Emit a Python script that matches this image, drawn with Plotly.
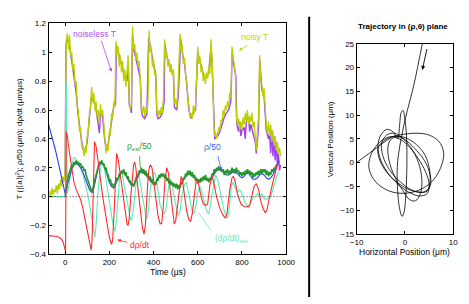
import plotly.graph_objects as go

# ---------------- left panel data ----------------
t_noisy = list(range(-70, 980, 5))
T_noisy = [
    0.04, 0.00, 0.06, 0.01, 0.05, 0.03, 0.08, 0.02, 0.09, 0.05,
    0.12, 0.07, 0.14, 0.10, 0.17, 1.08, 1.13, 1.02, 1.12, 0.98,
    1.00, 0.88, 0.92, 0.78, 0.80, 0.62, 0.60, 0.45, 0.48, 0.34,
    0.36, 0.28, 0.34, 0.30, 0.42, 0.45, 0.58, 0.62, 0.76, 0.66,
    0.72, 0.60, 0.66, 0.55, 0.60, 0.50, 0.64, 0.56, 0.60, 0.50,
    0.40, 0.30, 0.36, 0.32, 0.45, 0.42, 0.58, 0.54, 0.66, 0.62,
    1.08, 0.98, 1.04, 0.90, 0.98, 0.86, 0.94, 0.80, 0.88, 0.76,
    0.86, 0.98, 0.66, 0.60, 0.64, 1.18, 1.02, 1.06, 0.94, 1.00,
    0.90, 0.94, 0.82, 0.62, 0.58, 0.63, 0.55, 0.62, 0.58, 0.66,
    1.15, 1.00, 1.04, 0.90, 0.95, 0.84, 0.86, 0.60, 0.55, 0.60,
    0.56, 0.62, 0.58, 0.69, 1.09, 0.96, 1.00, 0.90, 0.95, 0.86,
    0.92, 0.84, 0.88, 0.64, 0.68, 0.62, 0.72, 0.95, 1.13, 1.00,
    1.05, 0.92, 0.96, 0.84, 0.80, 0.70, 0.62, 0.55, 0.58, 0.54,
    0.63, 0.58, 0.64, 0.85, 1.04, 0.92, 0.97, 0.86, 0.90, 0.80,
    0.85, 0.78, 0.86, 0.82, 0.90, 0.85, 1.09, 0.95, 0.72, 0.42,
    0.45, 0.40, 0.44, 0.48, 0.46, 0.53, 0.52, 0.60, 0.56, 0.63,
    0.60, 0.66, 0.62, 0.72, 0.68, 1.04, 0.95, 0.92, 0.86, 0.55,
    0.50, 0.54, 0.46, 0.52, 0.47, 0.55, 0.50, 0.58, 0.52, 0.60,
    0.50, 0.56, 0.52, 0.58, 0.48, 0.52, 0.42, 0.32, 0.45, 0.55,
    0.98, 0.80, 0.78, 0.70, 0.75, 0.60, 0.50, 0.44, 0.52, 0.42,
    0.50, 0.38, 0.46, 0.35, 0.42, 0.32, 0.38, 0.30, 0.34, 0.28,
]

T_clean_pts = [
    (-70, 0.02), (-60, 0.03), (-50, 0.04), (-40, 0.05), (-30, 0.07), (-20, 0.09), (-10, 0.11), (0, 0.14),
    (4, 1.05), (10, 1.10), (20, 1.04), (30, 0.94), (40, 0.84), (50, 0.72), (60, 0.55), (70, 0.42),
    (80, 0.33), (90, 0.31), (100, 0.38), (110, 0.55), (120, 0.70), (130, 0.66), (140, 0.60), (150, 0.50),
    (155, 0.44), (160, 0.58), (170, 0.55), (180, 0.38), (190, 0.32), (200, 0.42), (210, 0.54), (220, 0.62),
    (228, 0.64), (232, 1.05), (240, 1.00), (250, 0.94), (260, 0.90), (270, 0.84), (280, 0.80), (286, 0.92),
    (290, 0.64), (300, 0.58), (305, 1.12), (310, 1.02), (320, 0.96), (330, 0.90), (340, 0.82), (345, 0.60),
    (350, 0.56), (360, 0.54), (370, 0.57), (378, 1.10), (390, 1.00), (400, 0.92), (410, 0.84), (415, 0.57),
    (420, 0.54), (430, 0.55), (440, 0.58), (448, 0.66), (451, 1.06), (460, 0.97), (470, 0.92), (480, 0.88),
    (490, 0.84), (495, 0.62), (505, 0.60), (512, 0.70), (518, 0.90), (522, 1.10), (530, 1.00), (540, 0.92),
    (550, 0.78), (560, 0.60), (570, 0.54), (580, 0.58), (590, 0.60), (596, 0.82), (600, 1.00), (610, 0.94),
    (620, 0.87), (630, 0.82), (640, 0.83), (650, 0.86), (660, 1.04), (665, 0.92), (670, 0.70), (677, 0.40),
    (690, 0.42), (700, 0.45), (710, 0.50), (720, 0.55), (730, 0.58), (740, 0.60), (750, 0.66), (756, 1.00),
    (765, 0.90), (772, 0.84), (777, 0.50), (785, 0.45), (790, 0.52), (795, 0.42), (800, 0.46), (810, 0.48),
    (815, 0.40), (820, 0.52), (830, 0.55), (835, 0.45), (840, 0.50), (850, 0.44), (860, 0.38), (865, 0.30),
    (875, 0.48), (881, 0.95), (890, 0.74), (900, 0.70), (910, 0.46), (920, 0.40), (925, 0.44), (930, 0.30),
    (935, 0.46), (940, 0.28), (945, 0.42), (950, 0.25), (955, 0.38), (960, 0.22), (965, 0.30), (970, 0.18),
    (975, 0.22),
]

rho_pts = [
    (-75, 0.50), (-60, 0.42), (-45, 0.33), (-30, 0.23), (-15, 0.12), (-5, 0.05), (0, 0.02),
    (10, 0.08), (20, 0.14), (30, 0.19), (40, 0.22), (50, 0.23), (60, 0.22), (70, 0.20), (80, 0.17),
    (90, 0.13), (100, 0.09), (110, 0.05), (120, 0.03), (125, 0.03), (130, 0.06), (140, 0.14), (150, 0.20),
    (160, 0.23), (170, 0.23), (180, 0.20), (190, 0.15), (200, 0.10), (210, 0.07), (220, 0.06), (230, 0.09),
    (240, 0.13), (250, 0.16), (260, 0.17), (270, 0.16), (280, 0.13), (290, 0.10), (300, 0.08), (310, 0.08),
    (320, 0.11), (330, 0.15), (340, 0.17), (350, 0.17), (360, 0.16), (370, 0.14), (380, 0.12), (390, 0.10),
    (400, 0.09), (410, 0.10), (420, 0.13), (430, 0.15), (440, 0.15), (450, 0.14), (460, 0.12), (470, 0.10),
    (480, 0.09), (490, 0.08), (500, 0.08), (510, 0.07), (520, 0.08), (530, 0.10), (540, 0.13), (550, 0.15),
    (560, 0.16), (570, 0.16), (580, 0.15), (590, 0.13), (600, 0.11), (610, 0.10), (620, 0.11), (630, 0.12),
    (640, 0.12), (650, 0.11), (660, 0.12), (670, 0.15), (680, 0.17), (690, 0.19), (700, 0.19), (710, 0.18),
    (720, 0.16), (730, 0.15), (740, 0.15), (750, 0.16), (760, 0.17), (770, 0.17), (780, 0.16), (790, 0.14),
    (800, 0.13), (810, 0.14), (820, 0.16), (830, 0.16), (840, 0.14), (850, 0.12), (860, 0.12), (870, 0.13),
    (880, 0.15), (890, 0.16), (900, 0.15), (910, 0.13), (920, 0.12), (930, 0.13), (940, 0.15), (950, 0.18),
    (960, 0.22), (968, 0.25),
]

t_rho_est = list(range(0, 965, 5))
rho_est = [
    0.00, 0.06, 0.10, 0.15, 0.17, 0.20, 0.22, 0.21, 0.24, 0.22,
    0.25, 0.23, 0.24, 0.22, 0.23, 0.20, 0.21, 0.18, 0.19, 0.15,
    0.13, 0.10, 0.08, 0.06, 0.03, 0.05, 0.08, 0.12, 0.15, 0.19,
    0.21, 0.24, 0.23, 0.25, 0.22, 0.23, 0.19, 0.20, 0.16, 0.15,
    0.11, 0.12, 0.08, 0.09, 0.06, 0.08, 0.10, 0.13, 0.12, 0.16,
    0.15, 0.18, 0.16, 0.19, 0.15, 0.17, 0.13, 0.14, 0.10, 0.11,
    0.08, 0.09, 0.07, 0.10, 0.12, 0.15, 0.14, 0.18, 0.17, 0.20,
    0.16, 0.19, 0.15, 0.18, 0.14, 0.16, 0.12, 0.14, 0.10, 0.12,
    0.08, 0.10, 0.08, 0.12, 0.11, 0.15, 0.13, 0.16, 0.14, 0.16,
    0.13, 0.15, 0.11, 0.13, 0.09, 0.11, 0.08, 0.10, 0.07, 0.09,
    0.06, 0.09, 0.05, 0.08, 0.06, 0.10, 0.09, 0.13, 0.12, 0.16,
    0.14, 0.18, 0.15, 0.18, 0.14, 0.17, 0.13, 0.15, 0.11, 0.13,
    0.09, 0.12, 0.10, 0.13, 0.11, 0.14, 0.12, 0.15, 0.11, 0.13,
    0.10, 0.13, 0.12, 0.16, 0.15, 0.19, 0.17, 0.20, 0.18, 0.21,
    0.18, 0.20, 0.17, 0.19, 0.15, 0.18, 0.16, 0.19, 0.15, 0.18,
    0.16, 0.20, 0.17, 0.19, 0.16, 0.20, 0.17, 0.18, 0.15, 0.17,
    0.14, 0.17, 0.15, 0.18, 0.16, 0.19, 0.16, 0.18, 0.15, 0.17,
    0.13, 0.16, 0.14, 0.17, 0.15, 0.18, 0.15, 0.19, 0.16, 0.19,
    0.17, 0.19, 0.15, 0.18, 0.14, 0.17, 0.15, 0.19, 0.17, 0.20,
    0.19, 0.22, 0.21,
]

drho_pts = [
    (-75, -0.27), (-60, -0.27), (-45, -0.275), (-30, -0.28), (-20, -0.29), (-10, -0.31), (-5, -0.34),
    (0, -0.38), (2, -0.38), (5, 0.45), (10, 0.42), (20, 0.30), (30, 0.18), (40, 0.10), (50, 0.05),
    (60, 0.02), (70, -0.02), (80, -0.08), (90, -0.15), (100, -0.22), (110, -0.30), (118, -0.37),
    (122, -0.30), (128, 0.20), (133, 0.38), (140, 0.35), (150, 0.25), (160, 0.12), (170, 0.00),
    (180, -0.10), (190, -0.20), (200, -0.28), (210, -0.33), (215, -0.30), (222, -0.10), (228, 0.20),
    (233, 0.30), (240, 0.26), (250, 0.15), (260, 0.02), (270, -0.10), (280, -0.19), (285, -0.20),
    (290, -0.15), (300, 0.05), (310, 0.22), (315, 0.24), (320, 0.20), (330, 0.05), (340, -0.10),
    (350, -0.22), (357, -0.26), (363, -0.20), (370, 0.00), (378, 0.18), (385, 0.22), (393, 0.20),
    (400, 0.12), (410, -0.02), (420, -0.13), (430, -0.19), (437, -0.185), (445, -0.05), (452, 0.12),
    (460, 0.20), (468, 0.16), (475, 0.05), (485, -0.10), (494, -0.19), (500, -0.17), (510, -0.05),
    (518, 0.08), (525, 0.14), (532, 0.10), (540, 0.00), (550, -0.10), (560, -0.16), (568, -0.17),
    (575, -0.12), (585, 0.00), (592, 0.10), (598, 0.12), (605, 0.08), (615, 0.00), (625, -0.05),
    (635, -0.06), (645, -0.05), (655, 0.08), (665, 0.14), (672, 0.10), (685, 0.00), (700, -0.08),
    (715, -0.13), (725, -0.15), (732, -0.12), (745, 0.05), (755, 0.13), (762, 0.14), (770, 0.10),
    (780, 0.02), (795, -0.05), (810, -0.07), (825, -0.07), (835, -0.06), (845, 0.00), (855, 0.07),
    (865, 0.09), (875, 0.05), (885, -0.03), (895, -0.08), (905, -0.11), (912, -0.10), (920, -0.04),
    (930, 0.04), (940, 0.10), (950, 0.16), (960, 0.22),
]

drho_est_pts = [
    (-75, 0.0), (3, 0.0), (5, 0.80), (7, 0.05), (10, 0.02), (20, 0.10), (30, 0.22), (40, 0.27),
    (50, 0.26), (60, 0.22), (70, 0.20), (80, 0.16), (90, 0.10), (100, 0.03), (110, -0.05), (120, -0.15),
    (130, -0.25), (135, -0.28), (140, -0.20), (150, 0.05), (160, 0.20), (167, 0.25), (175, 0.22),
    (185, 0.12), (195, 0.00), (205, -0.10), (215, -0.18), (225, -0.24), (230, -0.20), (240, 0.00),
    (248, 0.15), (255, 0.18), (265, 0.10), (275, 0.00), (285, -0.08), (295, -0.15), (300, -0.17),
    (308, -0.10), (318, 0.05), (325, 0.15), (332, 0.17), (340, 0.10), (350, 0.00), (360, -0.10),
    (368, -0.16), (375, -0.12), (385, 0.05), (395, 0.14), (405, 0.17), (412, 0.13), (420, 0.03),
    (430, -0.06), (440, -0.10), (450, -0.12), (458, -0.07), (468, 0.07), (478, 0.12), (485, 0.08),
    (495, -0.02), (505, -0.10), (512, -0.13), (520, -0.10), (530, 0.02), (540, 0.08), (548, 0.10),
    (555, 0.05), (565, -0.04), (575, -0.10), (583, -0.12), (592, -0.06), (600, 0.03), (610, 0.07),
    (618, 0.04), (630, -0.05), (640, -0.10), (650, -0.12), (660, -0.03), (670, 0.08), (680, 0.15),
    (690, 0.12), (700, 0.05), (710, -0.04), (720, -0.10), (735, -0.15), (745, -0.05), (752, 0.07),
    (760, 0.10), (770, 0.06), (780, 0.03), (790, 0.05), (800, 0.02), (812, -0.03), (822, -0.06),
    (830, -0.08), (840, -0.04), (850, -0.01), (860, 0.00), (870, 0.02), (880, 0.00), (890, 0.02),
    (900, -0.01), (910, -0.02), (920, -0.01), (930, 0.00), (940, 0.05), (950, 0.10), (960, 0.15),
    (968, 0.17),
]

x_ticks = [0, 200, 400, 600, 800, 1000]
y_ticks = [-0.4, -0.2, 0, 0.2, 0.4, 0.6, 0.8, 1, 1.2]

# ---------------- right panel data ----------------
traj_h = [
    3.8, 3.0, 2.2, 1.4, 0.5, -0.2, -0.8, -1.3, -1.6,
    -1.6, -1.4, -1.0, -0.6, -0.2, 0.1, 0.3, 0.4, 0.4, 0.3, 0.0, -0.4, -0.8, -1.1, -1.5,
    -2.5, -3.8, -5.0, -5.6, -5.0, -3.5, -1.5, 0.8, 3.0, 4.6, 5.0, 4.3, 2.8, 1.0, -0.8, -2.8,
    -5.0, -6.8, -7.5, -6.8, -5.0, -2.5, 0.5, 3.5, 6.0, 7.6, 8.0, 7.0, 5.0, 2.5, 0.0, -2.5,
    -4.5, -5.6, -5.2, -3.8, -1.8, 0.5, 2.8, 4.6, 5.2, 5.0, 4.2, 2.8, 1.0, -1.0, -2.8,
    -3.5, -3.3, -2.2, -0.5, 1.0, 2.2, 3.2, 3.5, 2.8, 1.2, -0.8, -2.2,
    -3.8, -4.8, -4.6, -3.2, -1.0, 1.5, 3.8, 5.2, 5.2, 4.0, 2.0, -0.2, -2.0,
    -3.6, -5.5, -7.5, -9.5, -11.0,
]
traj_v = [
    26.0, 22.0, 18.0, 14.5, 11.0, 8.0, 5.0, 2.0, -1.0,
    -4.0, -7.5, -10.2, -11.3, -10.5, -8.0, -4.5, -1.0, 2.5, 6.0, 9.0, 11.0, 10.5, 8.0, 5.0,
    6.5, 7.0, 5.8, 3.5, 0.5, -2.2, -4.5, -6.2, -7.0, -6.5, -4.5, -2.0, 0.8, 3.2, 4.8, 5.5,
    4.5, 2.2, -0.5, -3.0, -5.0, -6.2, -6.4, -5.5, -3.5, -0.5, 2.2, 4.5, 5.8, 6.2, 6.0, 5.5,
    4.5, 3.0, 0.5, -2.0, -4.0, -5.5, -6.2, -6.0, -4.0, -1.0, 1.5, 3.4, 4.8, 5.5, 5.0,
    3.5, 0.5, -2.8, -5.8, -7.8, -8.0, -6.5, -3.5, 0.0, 3.2, 5.4, 6.2,
    5.8, 4.2, 1.5, -1.5, -4.0, -5.8, -6.2, -5.0, -2.5, 0.5, 3.0, 5.0, 5.6,
    4.8, 3.4, 1.9, 0.4, -0.7,
]
h_ticks = [-10, 0, 10]
v_ticks = [-15, -10, -5, 0, 5, 10, 15, 20, 25]

# ---------------- colours ----------------
C_NOISY = "#bcd000"
C_CLEAN = "#a040f0"
C_RHO = "#2a3cf0"
C_RHOEST = "#22992a"
C_DRHO = "#ff2a2a"
C_DRHOEST = "#5cecb8"
FONT = "Liberation Sans, Arial, Helvetica, sans-serif"

fig = go.Figure()


def unzip(pts):
    return [p[0] for p in pts], [p[1] for p in pts]


tc, vc = unzip(T_clean_pts)
fig.add_trace(go.Scatter(x=tc, y=vc, mode="lines", line=dict(color=C_CLEAN, width=1.4), xaxis="x", yaxis="y"))
fig.add_trace(go.Scatter(x=t_noisy, y=T_noisy, mode="lines", line=dict(color=C_NOISY, width=1.3), xaxis="x", yaxis="y"))
te, ve = unzip(drho_est_pts)
fig.add_trace(go.Scatter(x=te, y=ve, mode="lines", line=dict(color=C_DRHOEST, width=1.1), xaxis="x", yaxis="y"))
tr, vr = unzip(rho_pts)
fig.add_trace(go.Scatter(x=tr, y=vr, mode="lines", line=dict(color=C_RHO, width=1.1), xaxis="x", yaxis="y"))
fig.add_trace(go.Scatter(x=t_rho_est, y=rho_est, mode="lines", line=dict(color=C_RHOEST, width=1.6), xaxis="x", yaxis="y"))
td, vd = unzip(drho_pts)
fig.add_trace(go.Scatter(x=td, y=vd, mode="lines", line=dict(color=C_DRHO, width=1.1), xaxis="x", yaxis="y"))

fig.add_trace(go.Scatter(x=traj_h, y=traj_v, mode="lines", line=dict(color="black", width=0.8, shape="spline", smoothing=1.0),
                         xaxis="x2", yaxis="y2"))

fig.add_hline(y=0, line=dict(color="#333333", width=1, dash="1px,2px"), xref="x", yref="y")

axis_common = dict(showline=True, linecolor="black", linewidth=1, mirror="ticks", ticks="inside", ticklen=3,
                   tickcolor="black", showgrid=False, zeroline=False,
                   tickfont=dict(family=FONT, size=8, color="black"))

fig.update_layout(
    width=469, height=304, margin=dict(l=0, r=0, t=0, b=0),
    paper_bgcolor="white", plot_bgcolor="white", showlegend=False,
    xaxis=dict(domain=[0.0917, 0.6162], range=[-75, 1000], tickvals=x_ticks, anchor="y", **axis_common),
    yaxis=dict(domain=[0.1513, 0.9342], range=[-0.4, 1.2], tickvals=y_ticks, anchor="x", **axis_common),
    xaxis2=dict(domain=[0.7719, 0.9851], range=[-10, 10], tickvals=h_ticks, anchor="y2", **axis_common),
    yaxis2=dict(domain=[0.2204, 0.8651], range=[-15, 25], tickvals=v_ticks, anchor="x2", **axis_common),
)

ann = []


def tf(c, s=8.5):
    return dict(family=FONT, size=s, color=c)


def label(x, y, text, color, xref="x", yref="y", size=8.5, angle=0):
    ann.append(dict(x=x, y=y, xref=xref, yref=yref, text=text, showarrow=False, font=tf(color, size),
                    xanchor="center", yanchor="middle", textangle=angle))


def arrow(x, y, ax, ay, color, head=2, xref="x", yref="y", w=0.8):
    ann.append(dict(x=x, y=y, ax=ax, ay=ay, xref=xref, yref=yref, axref=xref, ayref=yref, text="",
                    showarrow=True, arrowhead=head, arrowsize=0.9, arrowwidth=w, arrowcolor=color))


label(131, 1.13, "noiseless T", "#b050f0")
arrow(210, 0.865, 162, 1.09, "#b050f0")
label(856, 1.106, "noisy T", "#c4d400")
arrow(786, 1.012, 830, 1.052, "#c4d400")
label(336, 0.345, "ρ<sub>est</sub>/50", C_RHOEST)
arrow(340, 0.20, 336, 0.29, C_RHOEST, head=0)
label(668, 0.346, "ρ/50", "#4060ff")
arrow(707, 0.178, 690, 0.292, "#4060ff")
label(338, -0.333, "dρ/dt", C_DRHO)
arrow(236, -0.299, 288, -0.319, C_DRHO)
label(755, -0.29, "(dρ/dt)<sub>est</sub>", "#60e8c0")
arrow(603, -0.11, 664, -0.245, "#60e8c0", head=0)

arrow(3.6, 19.5, 4.6, 24.2, "black", head=2, xref="x2", yref="y2", w=0.9)

# axis titles and panel title (paper coordinates)
label(0.0256, 0.543, "T (|⟨a⟩|<sup>2</sup>); ρ/50 (μm); dρ/dt (μm/μs)", "black", "paper", "paper", 8, -90)
label(0.356, 0.092, "Time (μs)", "black", "paper", "paper", 8.5)
label(0.714, 0.543, "Vertical Position (μm)", "black", "paper", "paper", 8, -90)
label(0.878, 0.161, "Horizontal Position (μm)", "black", "paper", "paper", 8.5)
label(0.874, 0.924, "<b>Trajectory in (ρ,θ) plane</b>", "black", "paper", "paper", 8)

fig.update_layout(annotations=ann)

# vertical separator between panels
fig.add_shape(type="line", xref="paper", yref="paper", x0=0.667, x1=0.667, y0=0.007, y1=0.957,
              line=dict(color="black", width=2))

fig.write_html("out.html", config={"displayModeBar": False},
               post_script="document.body.style.margin='0';document.body.style.overflow='hidden';")
